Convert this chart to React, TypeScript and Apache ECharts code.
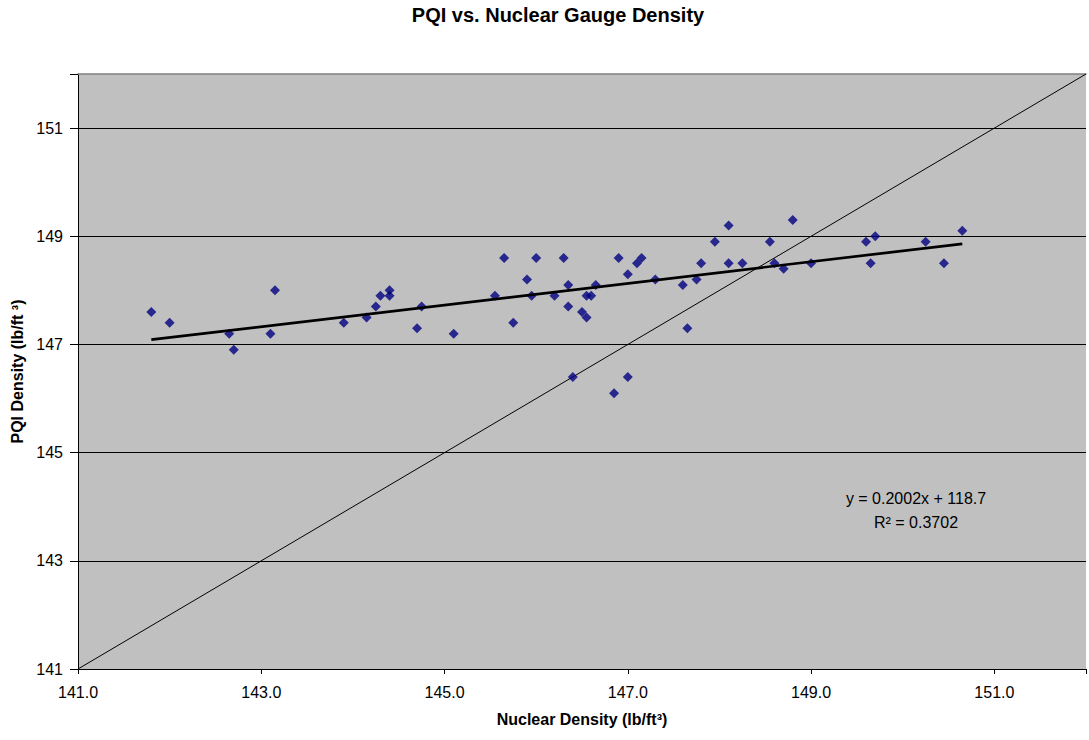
import React, { useEffect, useRef } from "react";
import * as echarts from "echarts";

const nuclearDensity = [
  141.8, 142.0, 142.65, 142.7, 143.1, 143.15, 143.9, 144.15, 144.25, 144.3,
  144.4, 144.4, 144.7, 144.75, 145.1, 145.55, 145.65, 145.75, 145.9, 145.95,
  146.0, 146.2, 146.3, 146.35, 146.35, 146.4, 146.5, 146.55, 146.55, 146.6,
  146.65, 146.85, 146.9, 147.0, 147.0, 147.1, 147.15, 147.3, 147.6, 147.65,
  147.75, 147.8, 147.95, 148.1, 148.1, 148.25, 148.55, 148.6, 148.7, 148.8,
  149.0, 149.6, 149.65, 149.7, 150.25, 150.45, 150.65,
];
const pqiDensity = [
  147.6, 147.4, 147.2, 146.9, 147.2, 148.0, 147.4, 147.5, 147.7, 147.9,
  148.0, 147.9, 147.3, 147.7, 147.2, 147.9, 148.6, 147.4, 148.2, 147.9,
  148.6, 147.9, 148.6, 148.1, 147.7, 146.4, 147.6, 147.5, 147.9, 147.9,
  148.1, 146.1, 148.6, 148.3, 146.4, 148.5, 148.6, 148.2, 148.1, 147.3,
  148.2, 148.5, 148.9, 149.2, 148.5, 148.5, 148.9, 148.5, 148.4, 149.3,
  148.5, 148.9, 148.5, 149.0, 148.9, 148.5, 149.1,
];
// trendline y = slope * x + intercept (as printed on chart)
const trendSlope = 0.2002;
const trendIntercept = 118.7;
const trendLabel = "y = 0.2002x + 118.7";
const r2Label = "R² = 0.3702";
// 1:1 equality line endpoints
const equalityLine = [141, 152];
const axisRange = [141, 152];
const tickInterval = 2;

const FONT = "'Liberation Sans', Arial, sans-serif";

export default function App() {
  const ref = useRef<HTMLDivElement>(null);
  useEffect(() => {
    if (!ref.current) return;
    const chart = echarts.init(ref.current, undefined, { renderer: "svg" });
    const points = nuclearDensity.map((x, i) => [x, pqiDensity[i]]);
    const xMin = Math.min(...nuclearDensity);
    const xMax = Math.max(...nuclearDensity);
    const trend = [xMin, xMax].map((x) => [x, trendSlope * x + trendIntercept]);
    const diag = equalityLine.map((v) => [v, v]);

    chart.setOption({
      animation: false,
      textStyle: { fontFamily: FONT },
      grid: {
        left: 78,
        right: -4,
        top: 74,
        bottom: 71,
        show: true,
        backgroundColor: "#C0C0C0",
        borderWidth: 0,
      },
      xAxis: [
        {
          type: "value",
          min: axisRange[0],
          max: axisRange[1],
          interval: tickInterval,
          name: "Nuclear Density (lb/ft³)",
          nameLocation: "middle",
          nameGap: 42,
          nameTextStyle: { fontSize: 16, fontWeight: "bold", color: "#000", fontFamily: FONT },
          axisLine: { lineStyle: { color: "#000", width: 1 } },
          axisTick: { length: 5, lineStyle: { color: "#000" } },
          axisLabel: {
            fontSize: 16,
            color: "#000",
            margin: 15,
            fontFamily: FONT,
            formatter: (v: number) => (v >= axisRange[1] ? "" : v.toFixed(1)),
          },
          splitLine: { show: false },
        },
        {
          type: "value",
          position: "top",
          min: axisRange[0],
          max: axisRange[1],
          interval: tickInterval,
          axisLine: { show: true, lineStyle: { color: "#808080", width: 1.5 } },
          axisTick: { show: false },
          axisLabel: { show: false },
          splitLine: { show: false },
        },
      ],
      yAxis: {
        type: "value",
        min: axisRange[0],
        max: axisRange[1],
        interval: tickInterval,
        name: "PQI Density (lb/ft ³)",
        nameLocation: "middle",
        nameGap: 52,
        nameTextStyle: { fontSize: 16, fontWeight: "bold", color: "#000", fontFamily: FONT },
        axisLine: { show: true, lineStyle: { color: "#000", width: 1 } },
        axisTick: { show: true, length: 8, lineStyle: { color: "#000" } },
        axisLabel: {
          fontSize: 16,
          color: "#000",
          margin: 15,
          fontFamily: FONT,
          formatter: (v: number) => (v >= axisRange[1] ? "" : String(v)),
        },
        splitLine: { show: true, showMaxLine: false, lineStyle: { color: "#000", width: 1 } },
      },
      graphic: [
        {
          type: "text",
          x: 558,
          y: 15,
          style: {
            text: "PQI vs. Nuclear Gauge Density",
            fontSize: 20,
            fontWeight: "bold",
            fontFamily: FONT,
            fill: "#000",
            align: "center",
            verticalAlign: "middle",
          },
        },
        {
          type: "text",
          x: 916,
          y: 498,
          z: 100,
          style: {
            text: trendLabel,
            fontSize: 16,
            fontFamily: FONT,
            fill: "#000",
            align: "center",
            verticalAlign: "middle",
          },
        },
        {
          type: "text",
          x: 916,
          y: 522,
          z: 100,
          style: {
            text: r2Label,
            fontSize: 16,
            fontFamily: FONT,
            fill: "#000",
            align: "center",
            verticalAlign: "middle",
          },
        },
      ],
      series: [
        {
          type: "line",
          data: diag,
          showSymbol: false,
          silent: true,
          lineStyle: { color: "#000", width: 1 },
          z: 2,
        },
        {
          type: "scatter",
          data: points,
          symbol: "diamond",
          symbolSize: 10,
          itemStyle: { color: "#000080" },
          z: 3,
        },
        {
          type: "line",
          data: trend,
          showSymbol: false,
          silent: true,
          lineStyle: { color: "#000", width: 2.7 },
          z: 4,
        },
      ],
    });
    return () => chart.dispose();
  }, []);
  return (
    <div
      ref={ref}
      style={{ position: "absolute", left: 0, top: 0, width: 1089, height: 740 }}
    />
  );
}
